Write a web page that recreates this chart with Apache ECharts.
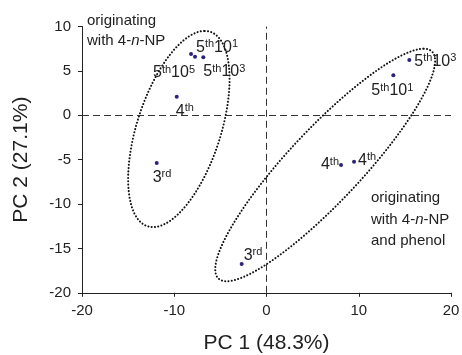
<!DOCTYPE html>
<html>
<head>
<meta charset="utf-8">
<script src="https://cdn.jsdelivr.net/npm/echarts@6/dist/echarts.min.js"></script>
<style>
html,body{margin:0;padding:0;background:#fff;}
#main{width:462px;height:355px;}
</style>
</head>
<body>
<div id="main"></div>
<script>
var myChart = echarts.init(document.getElementById('main'));

// scores on PC 1 / PC 2
var pc1 = [-8.18, -7.75, -6.85, -9.73, -11.9, 15.48, 13.75, 8.08, 9.49, -2.69];
var pc2 = [6.9, 6.6, 6.53, 2.1, -5.37, 6.23, 4.5, -5.6, -5.23, -16.75];
var stage = ['5', '5', '5', '4', '3', '5', '5', '4', '4', '3'];
var stageSuffix = ['th', 'th', 'th', 'th', 'rd', 'th', 'th', 'th', 'th', 'rd'];
var dilution = ['5', '1', '3', '', '', '3', '1', '', '', ''];

// group ellipses: centre, top-point offset, half chord through centre
var ellipseCentre = [[-9.5, -1.55], [6.36, -5.6]];
var ellipseTop = [[2.8, 11.05], [10.68, 13.1]];
var ellipseHalfChord = [4.73, 5.29];

var xTicks = {min: -20, max: 20, interval: 10};
var yTicks = {min: -20, max: 10, interval: 5};

// label placement (px from point: text left/right edge, baseline)
var labelPos = [[-38, 23], [1, -5], [0, 19], [-1, 19], [-4, 19], [5, 6], [-22, 20], [-2, 4, 'right'], [4, 3], [2, -4]];

var font = 'Liberation Sans, Arial, Helvetica, sans-serif';

var pts = [];
for (var i = 0; i < pc1.length; i++) {
    var lp = labelPos[i];
    var txt = '{n|' + stage[i] + '}{s|' + stageSuffix[i] + '}';
    if (dilution[i] !== '') txt += '{n|10}{s|' + dilution[i] + '}';
    var half = 2;
    pts.push({
        value: [pc1[i], pc2[i]],
        label: {
            show: true,
            formatter: txt,
            position: [lp[0] + half, lp[1] - 13 + half],
            align: lp[2] || 'left',
            verticalAlign: 'top'
        }
    });
}

var ellData = [];
for (var i = 0; i < ellipseCentre.length; i++) {
    ellData.push([ellipseCentre[i][0], ellipseCentre[i][1]]);
}

function renderEllipse(params, api) {
    var k = params.dataIndex;
    var c = ellipseCentre[k], u = ellipseTop[k], h = ellipseHalfChord[k];
    var points = [];
    for (var j = 0; j <= 200; j++) {
        var t = j / 200 * Math.PI * 2;
        points.push(api.coord([c[0] + u[0] * Math.cos(t) + h * Math.sin(t), c[1] + u[1] * Math.cos(t)]));
    }
    return {
        type: 'polyline',
        shape: {points: points},
        style: {fill: null, stroke: '#111', lineWidth: 2, lineDash: [0.1, 3.2], lineCap: 'round'}
    };
}

var option = {
    animation: false,
    backgroundColor: '#fff',
    grid: {left: 82, right: 11, top: 26.5, bottom: 62.2, outerBoundsMode: 'none', containLabel: false},
    xAxis: {
        type: 'value', min: xTicks.min, max: xTicks.max, interval: xTicks.interval,
        name: 'PC 1 (48.3%)', nameLocation: 'middle', nameGap: 40,
        nameTextStyle: {fontFamily: font, fontSize: 21, color: '#222'},
        axisLine: {onZero: false, lineStyle: {color: '#222', width: 1}},
        axisTick: {length: 4, lineStyle: {color: '#222'}},
        axisLabel: {fontFamily: font, fontSize: 15, color: '#222', margin: 11},
        splitLine: {show: false}
    },
    yAxis: {
        type: 'value', min: yTicks.min, max: yTicks.max, interval: yTicks.interval,
        name: 'PC 2 (27.1%)', nameLocation: 'middle', nameGap: 50,
        nameTextStyle: {fontFamily: font, fontSize: 21, color: '#222'},
        axisLine: {show: true, onZero: false, lineStyle: {color: '#222', width: 1}},
        axisTick: {show: true, length: 4, lineStyle: {color: '#222'}},
        axisLabel: {fontFamily: font, fontSize: 15, color: '#222', margin: 11},
        splitLine: {show: false}
    },
    graphic: [
        {
            type: 'text', left: 87, top: 11,
            style: {
                text: 'originating\nwith 4-{i|n}-NP',
                font: '15px ' + font, fill: '#222', lineHeight: 20,
                rich: {i: {fontStyle: 'italic', fontSize: 15, fontFamily: font, lineHeight: 20}}
            }
        },
        {
            type: 'text', left: 371, top: 187,
            style: {
                text: 'originating\nwith 4-{i|n}-NP\nand phenol',
                font: '15px ' + font, fill: '#222', lineHeight: 21.7,
                rich: {i: {fontStyle: 'italic', fontSize: 15, fontFamily: font, lineHeight: 21.7}}
            }
        }
    ],
    series: [
        {
            type: 'custom',
            renderItem: renderEllipse,
            data: ellData,
            silent: true,
            z: 1
        },
        {
            type: 'scatter',
            data: pts,
            symbolSize: 4,
            itemStyle: {color: '#2a2378', opacity: 1},
            label: {
                color: '#222',
                opacity: 1,
                textBorderWidth: 0,
                textBorderColor: 'transparent',
                rich: {
                    n: {fontFamily: font, fontSize: 16, lineHeight: 17, color: '#222'},
                    s: {fontFamily: font, fontSize: 11, lineHeight: 11, verticalAlign: 'top', color: '#222'}
                }
            },
            markLine: {
                silent: true,
                symbol: 'none',
                label: {show: false},
                lineStyle: {color: '#333', width: 1, type: [7, 4]},
                data: [{xAxis: 0}, {yAxis: 0}]
            },
            z: 3
        }
    ]
};
myChart.setOption(option);
window.onresize = myChart.resize;
</script>
</body>
</html>
